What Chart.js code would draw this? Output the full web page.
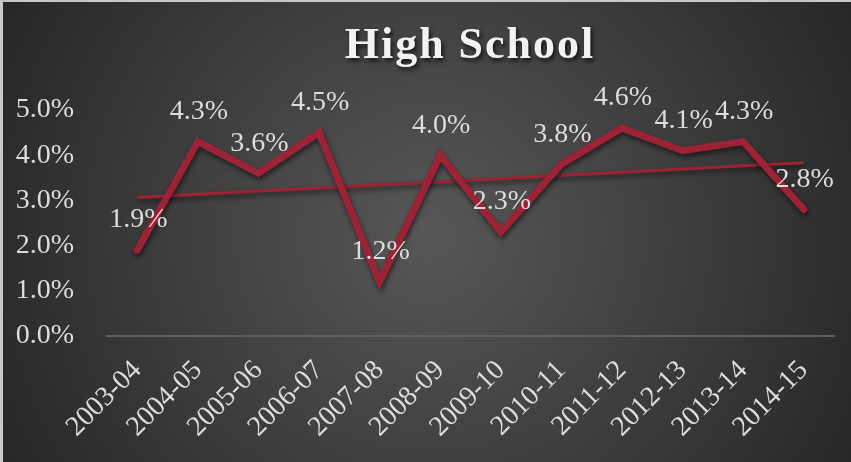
<!DOCTYPE html>
<html>
<head>
<meta charset="utf-8">
<script src="https://cdn.jsdelivr.net/npm/chart.js@4/dist/chart.umd.min.js"></script>
<style>
  html, body { margin: 0; padding: 0; background: #bdbdbd; }
  #wrap { width: 851px; height: 462px; position: relative; }
</style>
</head>
<body>
<div id="wrap"><canvas id="hsChart" width="851" height="462"></canvas></div>
<script>
// chart data
const years = ["2003-04", "2004-05", "2005-06", "2006-07", "2007-08", "2008-09",
               "2009-10", "2010-11", "2011-12", "2012-13", "2013-14", "2014-15"];
const rates = [1.9, 4.3, 3.6, 4.5, 1.2, 4.0, 2.3, 3.8, 4.6, 4.1, 4.3, 2.8];
const yTicks = [0, 1, 2, 3, 4, 5];
const chartTitle = "High School";

// linear trendline (least squares, like Excel)
const n = rates.length;
const meanX = (n - 1) / 2;
const meanY = rates.reduce((a, b) => a + b, 0) / n;
let num = 0, den = 0;
rates.forEach((v, i) => { num += (i - meanX) * (v - meanY); den += (i - meanX) ** 2; });
const slope = num / den;
const trend = rates.map((v, i) => meanY + slope * (i - meanX));

const lineRed = "#9b2335";
const textGray = "#dcdcdc";
const serif = "'Liberation Serif', 'Times New Roman', serif";

// background + frame
const bgPlugin = {
  id: "bg",
  beforeDraw(chart) {
    const { ctx, width, height } = chart;
    ctx.save();
    const g = ctx.createRadialGradient(430, 235, 10, 430, 235, 520);
    g.addColorStop(0, "#565656");
    g.addColorStop(1, "#232323");
    ctx.fillStyle = g;
    ctx.fillRect(0, 0, width, height);
    ctx.fillStyle = "#c8c8c8";
    ctx.fillRect(0, 0, width, 2);
    ctx.fillRect(0, 0, 3, height);
    ctx.restore();
  }
};

// title with shadow
const titlePlugin = {
  id: "hsTitle",
  afterDraw(chart) {
    const { ctx } = chart;
    ctx.save();
    ctx.font = "bold 44px " + serif;
    if ("letterSpacing" in ctx) ctx.letterSpacing = "2px";
    ctx.textAlign = "center";
    ctx.textBaseline = "alphabetic";
    ctx.shadowColor = "rgba(0,0,0,0.7)";
    ctx.shadowOffsetX = 2;
    ctx.shadowOffsetY = 3;
    ctx.shadowBlur = 4;
    ctx.fillStyle = "#f2f2f2";
    ctx.fillText(chartTitle, 470, 58);
    ctx.restore();
  }
};

// line shadow
const shadowPlugin = {
  id: "lineShadow",
  beforeDatasetDraw(chart, args) {
    const ctx = chart.ctx;
    ctx.save();
    ctx.shadowColor = "rgba(0,0,0,0.55)";
    ctx.shadowBlur = 5;
    ctx.shadowOffsetX = 1;
    ctx.shadowOffsetY = 3;
  },
  afterDatasetDraw(chart) {
    chart.ctx.restore();
  }
};

// value labels above points
const labelPlugin = {
  id: "valueLabels",
  afterDatasetsDraw(chart) {
    const { ctx } = chart;
    const meta = chart.getDatasetMeta(0);
    ctx.save();
    ctx.font = "28px " + serif;
    ctx.fillStyle = textGray;
    ctx.textAlign = "center";
    ctx.textBaseline = "middle";
    meta.data.forEach((pt, i) => {
      ctx.fillText(rates[i].toFixed(1) + "%", pt.x + 1, pt.y - 30);
    });
    ctx.restore();
  }
};

const ctx = document.getElementById("hsChart").getContext("2d");
new Chart(ctx, {
  type: "line",
  data: {
    labels: years,
    datasets: [
      {
        label: chartTitle,
        data: rates,
        borderColor: lineRed,
        borderWidth: 7,
        pointRadius: 0,
        tension: 0,
        borderJoinStyle: "miter",
        borderCapStyle: "round",
        order: 1
      },
      {
        label: "Linear trend",
        data: trend,
        borderColor: lineRed,
        borderWidth: 3,
        pointRadius: 0,
        tension: 0,
        order: 2
      }
    ]
  },
  options: {
    responsive: false,
    animation: false,
    layout: { padding: { left: 15, right: 17, top: 110, bottom: 0 } },
    plugins: {
      legend: { display: false },
      title: { display: false },
      tooltip: { enabled: false }
    },
    scales: {
      x: {
        offset: true,
        grid: { display: false },
        border: { display: true, color: "#5e5e5e", width: 2 },
        ticks: {
          color: textGray,
          font: { family: serif, size: 28 },
          minRotation: 45,
          maxRotation: 45,
          padding: 10
        },
        afterFit(scale) { scale.height = 126; }
      },
      y: {
        min: 0,
        max: 5,
        afterBuildTicks(scale) { scale.ticks = yTicks.map(v => ({ value: v })); },
        grid: { display: false },
        border: { display: false },
        ticks: {
          color: textGray,
          font: { family: serif, size: 28 },
          padding: 25,
          callback: v => v.toFixed(1) + "%"
        },
        afterFit(scale) { scale.width = 92; }
      }
    }
  },
  plugins: [bgPlugin, shadowPlugin, labelPlugin, titlePlugin]
});
</script>
</body>
</html>
